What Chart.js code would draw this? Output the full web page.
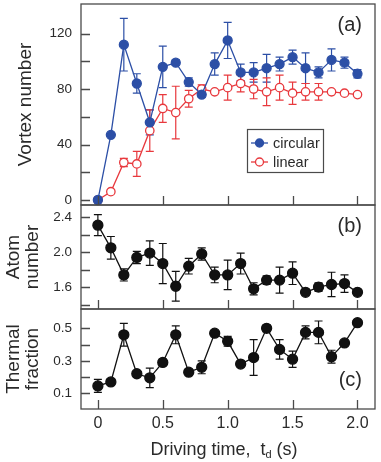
<!DOCTYPE html>
<html>
<head>
<meta charset="utf-8">
<script src="https://cdn.jsdelivr.net/npm/chart.js@4.4.1/dist/chart.umd.min.js"></script>
<style>
  html, body { margin: 0; padding: 0; background: #fff; }
  #wrap { position: relative; width: 381px; height: 462px; overflow: hidden; }
  canvas { position: absolute; left: 0; }
</style>
</head>
<body>
<div id="wrap">
  <canvas id="chartA" width="381" height="207" style="top:0px"></canvas>
  <canvas id="chartB" width="381" height="110" style="top:200px"></canvas>
  <canvas id="chartC" width="381" height="158" style="top:304px"></canvas>
</div>
<script>
// driving time t_d (s)
const time = [0, 0.1, 0.2, 0.3, 0.4, 0.5, 0.6, 0.7, 0.8, 0.9, 1.0, 1.1, 1.2, 1.3, 1.4, 1.5, 1.6, 1.7, 1.8, 1.9, 2.0];

// (a) vortex number
const circular    = [0, 47, 112, 84, 56, 96, 99, 85, 76, 98, 115, 92, 92, 95, 98, 103, 95, 92, 101, 99, 91];
const circularErr = [0, 0, 19, 7, 9, 15, 2, 3, 2, 8, 13, 6, 7, 10, 5, 5, 11, 4, 8, 4, 3];
const linear      = [0, 6, 27, 26, 50, 66, 63, 73, 80, 78, 81, 84, 80, 78, 81, 77, 78, 78, 78, 77, 76];
const linearErr   = [0, 0, 3, 9, 15, 10, 19, 6, 3, 0, 9, 6, 7, 10, 9, 8, 6, 6, 1, 1, 1];

// (b) atom number
const atom    = [2.31, 2.05, 1.74, 1.94, 1.99, 1.87, 1.61, 1.84, 1.98, 1.74, 1.74, 1.87, 1.58, 1.68, 1.68, 1.76, 1.54, 1.60, 1.63, 1.64, 1.54];
const atomErr = [0.12, 0.13, 0.07, 0.07, 0.14, 0.23, 0.17, 0.09, 0.07, 0.09, 0.17, 0.12, 0.07, 0.05, 0.15, 0.13, 0.02, 0.05, 0.14, 0.10, 0.02];

// (c) thermal fraction
const thermal    = [0.145, 0.17, 0.46, 0.22, 0.195, 0.29, 0.46, 0.23, 0.26, 0.47, 0.42, 0.28, 0.32, 0.50, 0.37, 0.31, 0.475, 0.475, 0.325, 0.41, 0.535];
const thermalErr = [0.04, 0, 0.07, 0, 0.06, 0.02, 0.055, 0, 0.04, 0, 0.03, 0, 0.11, 0.02, 0.06, 0.05, 0.04, 0.07, 0.04, 0, 0];

// ticks
const xTicks = [0, 0.5, 1.0, 1.5, 2.0];
const vortexTicks = [0, 20, 40, 60, 80, 100, 120];
const vortexLabels = [0, 40, 80, 120];
const atomTicks = [1.4, 1.6, 1.8, 2.0, 2.2, 2.4];
const atomLabels = [1.6, 2.0, 2.4];
const thermalTicks = [0.1, 0.2, 0.3, 0.4, 0.5];
const thermalLabels = [0.1, 0.3, 0.5];

const FONT = "'Liberation Sans', Arial, Helvetica, sans-serif";
const TEXT = '#2a2a2a';
const FRAME = '#4a4a4a';
const BLUE = '#2c4fa6';
const RED = '#e8383d';
const BLACK = '#111111';

function pts(ys) {
  return time.map((t, i) => ({ x: t, y: ys[i] }));
}

// vertical error bars with caps, drawn under the markers
const errorBars = {
  id: 'errorBars',
  beforeDatasetsDraw(chart) {
    const { ctx } = chart;
    const xs = chart.scales.x, ys = chart.scales.y;
    chart.data.datasets.forEach(ds => {
      if (!ds.errors) return;
      ctx.save();
      ctx.strokeStyle = ds.borderColor;
      ctx.lineWidth = 1.2;
      ds.data.forEach((p, i) => {
        const e = ds.errors[i];
        if (!e) return;
        const x = xs.getPixelForValue(p.x);
        const y1 = ys.getPixelForValue(p.y + e);
        const y2 = ys.getPixelForValue(p.y - e);
        ctx.beginPath();
        ctx.moveTo(x, y1); ctx.lineTo(x, y2);
        ctx.moveTo(x - 4, y1); ctx.lineTo(x + 4, y1);
        ctx.moveTo(x - 4, y2); ctx.lineTo(x + 4, y2);
        ctx.stroke();
      });
      ctx.restore();
    });
  }
};

// box frame with inward ticks + panel letter
function framePlugin(letter, letterPos) {
  return {
    id: 'frame',
    afterDraw(chart) {
      const { ctx, chartArea: a } = chart;
      const xs = chart.scales.x, ys = chart.scales.y;
      ctx.save();
      ctx.strokeStyle = FRAME;
      ctx.lineWidth = 1.3;
      ctx.strokeRect(a.left, a.top, a.right - a.left, a.bottom - a.top);
      ctx.beginPath();
      ys.ticks.forEach(t => {
        const y = Math.round(ys.getPixelForValue(t.value)) + 0.5;
        ctx.moveTo(a.left, y); ctx.lineTo(a.left + 9, y);
      });
      xTicks.forEach(v => {
        const x = Math.round(xs.getPixelForValue(v)) + 0.5;
        ctx.moveTo(x, a.bottom); ctx.lineTo(x, a.bottom - 9);
      });
      ctx.stroke();
      ctx.fillStyle = TEXT;
      ctx.font = '20px ' + FONT;
      ctx.textAlign = 'right';
      ctx.textBaseline = 'middle';
      const y = letterPos === 'top' ? a.top + 21 : a.bottom - 29;
      ctx.fillText(letter, a.right - 13, y);
      ctx.restore();
    }
  };
}

// legend box inside panel (a)
const legendBox = {
  id: 'legendBox',
  afterDraw(chart) {
    const { ctx } = chart;
    ctx.save();
    ctx.strokeStyle = FRAME;
    ctx.lineWidth = 1.2;
    ctx.strokeRect(247.5, 129.5, 76, 43);
    ctx.font = '14.5px ' + FONT;
    ctx.textBaseline = 'middle';
    ctx.fillStyle = TEXT;
    chart.data.datasets.forEach((ds, i) => {
      const y = 143 + i * 19;
      ctx.strokeStyle = ds.borderColor;
      ctx.lineWidth = 1.3;
      ctx.beginPath(); ctx.moveTo(251, y); ctx.lineTo(268, y); ctx.stroke();
      ctx.beginPath(); ctx.arc(259.5, y, 4, 0, Math.PI * 2);
      ctx.fillStyle = ds.pointBackgroundColor;
      ctx.fill(); ctx.stroke();
      ctx.fillStyle = TEXT;
      ctx.fillText(ds.label, 273, y + 0.5);
    });
    ctx.restore();
  }
};

// x-axis title with subscript d
const xTitle = {
  id: 'xTitle',
  afterDraw(chart) {
    const { ctx } = chart;
    const parts = [
      { t: 'Driving time,  t', f: '18px ' + FONT, dy: 0 },
      { t: 'd', f: '11px ' + FONT, dy: 3 },
      { t: ' (s)', f: '18px ' + FONT, dy: 0 }
    ];
    ctx.save();
    ctx.fillStyle = TEXT;
    ctx.textBaseline = 'alphabetic';
    ctx.textAlign = 'left';
    let w = 0;
    parts.forEach(p => { ctx.font = p.f; p.w = ctx.measureText(p.t).width; w += p.w; });
    let x = 224 - w / 2;
    const base = 151;
    parts.forEach(p => { ctx.font = p.f; ctx.fillText(p.t, x, base + p.dy); x += p.w; });
    ctx.restore();
  }
};

function noPad(s) {
  s.paddingTop = 0; s.paddingBottom = 0;
  s.paddingLeft = 0; s.paddingRight = 0;
}

function yScale(min, max, tickVals, labelVals, fmt, title, titlePad) {
  return {
    min: min, max: max,
    afterBuildTicks: s => { s.ticks = tickVals.map(v => ({ value: v })); },
    afterFit: s => { s.width = 81; noPad(s); },
    grid: { display: false, drawTicks: false },
    border: { display: false },
    ticks: {
      autoSkip: false,
      padding: 9,
      color: TEXT,
      font: { family: FONT, size: 13.5 },
      callback: v => labelVals.some(l => Math.abs(l - v) < 1e-9) ? fmt(v) : ''
    },
    title: {
      display: true,
      text: title,
      color: TEXT,
      font: { family: FONT, size: 19, lineHeight: 1.0 },
      padding: { top: titlePad, bottom: 0 }
    }
  };
}

function xScale(show, height) {
  return {
    type: 'linear',
    min: -0.13, max: 2.135,
    display: show,
    afterBuildTicks: s => { s.ticks = xTicks.map(v => ({ value: v })); },
    afterFit: s => { s.height = height; noPad(s); },
    grid: { display: false, drawTicks: false },
    border: { display: false },
    ticks: {
      autoSkip: false,
      padding: 5,
      color: TEXT,
      font: { family: FONT, size: 16 },
      maxRotation: 0,
      callback: v => v === 0 ? '0' : v.toFixed(1)
    }
  };
}

function lineSet(label, ys, errs, color, fill, radius) {
  return {
    label: label,
    data: pts(ys),
    errors: errs,
    borderColor: color,
    backgroundColor: color,
    borderWidth: 1.3,
    pointRadius: radius,
    pointHoverRadius: radius,
    pointBackgroundColor: fill,
    pointBorderColor: color,
    pointBorderWidth: 1.3,
    tension: 0,
    clip: false
  };
}

const common = {
  responsive: false,
  animation: false,
  events: [],
  plugins: { legend: { display: false }, tooltip: { enabled: false } }
};

new Chart(document.getElementById('chartA'), {
  type: 'line',
  data: {
    datasets: [
      lineSet('circular', circular, circularErr, BLUE, BLUE, 4.5),
      lineSet('linear', linear, linearErr, RED, '#ffffff', 4.2)
    ]
  },
  options: Object.assign({}, common, {
    layout: { autoPadding: false, padding: { top: 4, right: 6, bottom: 2, left: 0 } },
    scales: {
      x: xScale(false, 0),
      y: yScale(-3.6, 141.3, vortexTicks, vortexLabels, v => String(v), 'Vortex number', 16)
    }
  }),
  plugins: [errorBars, framePlugin('(a)', 'top'), legendBox]
});

new Chart(document.getElementById('chartB'), {
  type: 'line',
  data: {
    datasets: [lineSet('atom number', atom, atomErr, BLACK, BLACK, 5)]
  },
  options: Object.assign({}, common, {
    layout: { autoPadding: false, padding: { top: 5, right: 6, bottom: 1, left: 0 } },
    scales: {
      x: xScale(false, 0),
      y: yScale(1.349, 2.541, atomTicks, atomLabels, v => v.toFixed(1), ['Atom', 'number'], 4.5)
    }
  }),
  plugins: [errorBars, framePlugin('(b)', 'top')]
});

new Chart(document.getElementById('chartC'), {
  type: 'line',
  data: {
    datasets: [lineSet('thermal fraction', thermal, thermalErr, BLACK, BLACK, 5)]
  },
  options: Object.assign({}, common, {
    layout: { autoPadding: false, padding: { top: 5, right: 6, bottom: 0, left: 0 } },
    scales: {
      x: xScale(true, 53),
      y: yScale(0.003, 0.619, thermalTicks, thermalLabels, v => v.toFixed(1), ['Thermal', 'fraction'], 4.5)
    }
  }),
  plugins: [errorBars, framePlugin('(c)', 'bottom'), xTitle]
});
</script>
</body>
</html>
